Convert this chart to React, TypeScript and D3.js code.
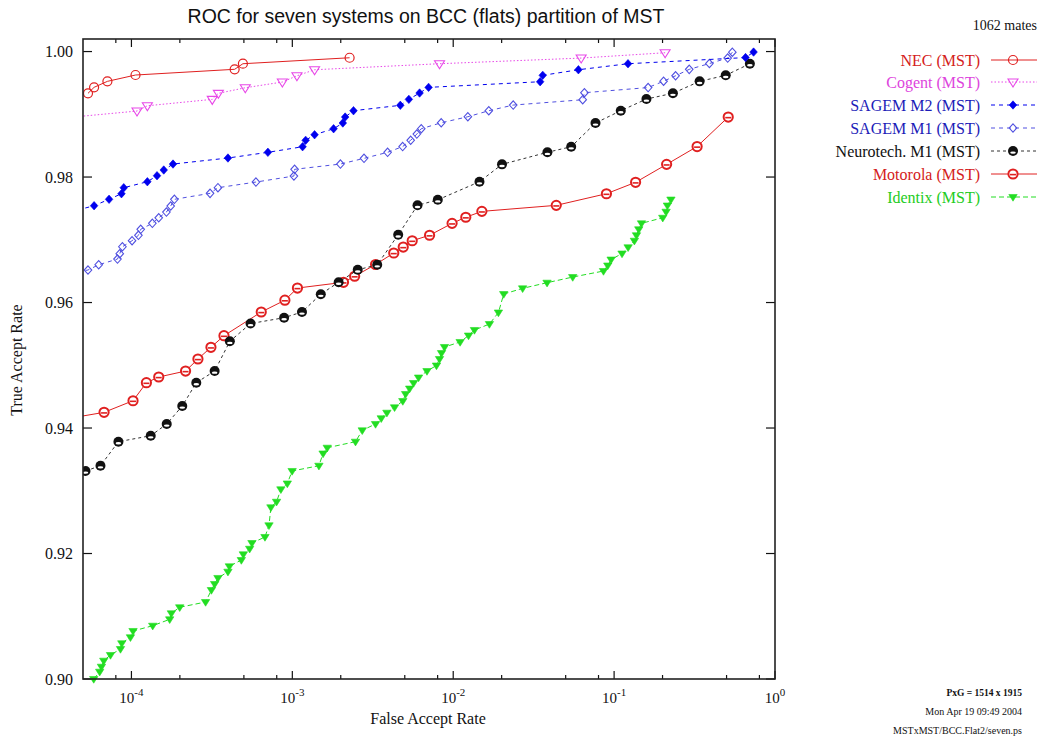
import { useEffect, useRef } from "react";
import * as d3 from "d3";

// ---- data (FAR, TAR) ----
const necFar = [5.37e-5, 5.86e-5, 7.09e-5, 1.06e-4, 4.38e-4, 4.93e-4, 2.27e-3];
const necTar = [0.99334, 0.9943, 0.99525, 0.99626, 0.99717, 0.99806, 0.99901];

const cogentFar = [4.14e-5, 1.083e-4, 1.256e-4, 3.18e-4, 3.47e-4, 5.1e-4, 8.67e-4, 1.068e-3, 1.375e-3, 8.22e-3, 0.0624, 0.2075];
const cogentTar = [0.98951, 0.99052, 0.99136, 0.99238, 0.99334, 0.99423, 0.99514, 0.99614, 0.9971, 0.99806, 0.99896, 0.99981];

const sagemM2Far = [4.14e-5, 5.86e-5, 7.26e-5, 8.67e-5, 8.96e-5, 1.256e-4, 1.442e-4, 1.588e-4, 1.813e-4, 3.98e-4, 7.05e-4, 1.158e-3, 1.21e-3, 1.375e-3, 1.805e-3, 2.06e-3, 2.13e-3, 2.4e-3, 4.69e-3, 5.3e-3, 6.18e-3, 7.03e-3, 0.0347, 0.036, 0.06, 0.122, 0.656, 0.736];
const sagemM2Tar = [0.97442, 0.97543, 0.97645, 0.97734, 0.9783, 0.97925, 0.98021, 0.98112, 0.98207, 0.98303, 0.98394, 0.98483, 0.98585, 0.98674, 0.9877, 0.98861, 0.98956, 0.99057, 0.99143, 0.99238, 0.99339, 0.99429, 0.99519, 0.99621, 0.9971, 0.99806, 0.99904, 0.99992];

const sagemM1Far = [4.14e-5, 5.37e-5, 6.26e-5, 8.19e-5, 8.46e-5, 8.79e-5, 1.009e-4, 1.105e-4, 1.142e-4, 1.349e-4, 1.478e-4, 1.65e-4, 1.754e-4, 1.849e-4, 3.08e-4, 3.45e-4, 5.94e-4, 1.023e-3, 1.033e-3, 1.99e-3, 2.79e-3, 3.91e-3, 4.85e-3, 5.44e-3, 5.94e-3, 6.33e-3, 8.42e-3, 0.01233, 0.01664, 0.0236, 0.0638, 0.0654, 0.1627, 0.203, 0.241, 0.293, 0.391, 0.508, 0.543];
const sagemM1Tar = [0.9647, 0.96518, 0.96602, 0.96693, 0.96778, 0.96889, 0.96985, 0.97071, 0.97167, 0.97262, 0.97351, 0.97442, 0.97538, 0.97645, 0.9774, 0.9783, 0.9792, 0.98016, 0.98123, 0.98207, 0.98298, 0.98394, 0.98486, 0.98586, 0.98685, 0.9877, 0.98865, 0.98961, 0.99057, 0.99147, 0.99232, 0.99344, 0.99426, 0.99527, 0.99614, 0.99716, 0.99809, 0.99896, 0.99989];

const neuroFar = [5.18e-5, 6.42e-5, 8.3e-5, 1.318e-4, 1.657e-4, 2.07e-4, 2.53e-4, 3.29e-4, 4.09e-4, 5.5e-4, 8.89e-4, 1.148e-3, 1.503e-3, 1.94e-3, 2.55e-3, 3.37e-3, 4.55e-3, 6.0e-3, 8.02e-3, 0.01456, 0.0201, 0.0385, 0.0541, 0.0766, 0.11, 0.1588, 0.232, 0.34, 0.494, 0.698];
const neuroTar = [0.93315, 0.93399, 0.93782, 0.93877, 0.94064, 0.94351, 0.94722, 0.94908, 0.95382, 0.95665, 0.95758, 0.95849, 0.96132, 0.96324, 0.96521, 0.96602, 0.97079, 0.97549, 0.97637, 0.97925, 0.98202, 0.98394, 0.98483, 0.98861, 0.99057, 0.99243, 0.99335, 0.99525, 0.99621, 0.99806];

const motoFar = [4.14e-5, 6.76e-5, 1.023e-4, 1.239e-4, 1.478e-4, 2.17e-4, 2.59e-4, 3.12e-4, 3.76e-4, 6.41e-4, 8.99e-4, 1.076e-3, 2.08e-3, 2.44e-3, 3.29e-3, 4.27e-3, 4.89e-3, 5.56e-3, 7.13e-3, 9.84e-3, 0.01197, 0.01507, 0.0437, 0.0896, 0.136, 0.212, 0.328, 0.512];
const motoTar = [0.94156, 0.9425, 0.94435, 0.94722, 0.94813, 0.94908, 0.951, 0.95286, 0.95471, 0.95849, 0.96037, 0.96231, 0.96322, 0.96419, 0.96606, 0.96789, 0.96884, 0.96985, 0.97072, 0.97262, 0.97359, 0.97453, 0.97549, 0.97734, 0.97916, 0.98202, 0.98486, 0.98956];

const identixFar = [5.83e-5, 6.35e-5, 6.51e-5, 6.73e-5, 7.41e-5, 8.55e-5, 8.71e-5, 9.86e-5, 1.023e-4, 1.356e-4, 1.729e-4, 1.771e-4, 1.995e-4, 2.89e-4, 3.14e-4, 3.29e-4, 3.45e-4, 3.98e-4, 4.06e-4, 4.82e-4, 4.96e-4, 5.43e-4, 5.61e-4, 6.76e-4, 7.16e-4, 7.36e-4, 7.98e-4, 8.49e-4, 9.31e-4, 9.97e-4, 1.463e-3, 1.553e-3, 1.648e-3, 2.47e-3, 2.72e-3, 3.29e-3, 3.57e-3, 3.87e-3, 4.32e-3, 4.86e-3, 5.06e-3, 5.36e-3, 5.67e-3, 6.09e-3, 6.87e-3, 7.87e-3, 8.22e-3, 8.46e-3, 8.83e-3, 0.01104, 0.01245, 0.01355, 0.01679, 0.0191, 0.0206, 0.027, 0.0383, 0.0553, 0.0859, 0.0913, 0.0958, 0.112, 0.1222, 0.1337, 0.1377, 0.1423, 0.148, 0.2006, 0.2105, 0.2144, 0.2255];
const identixTar = [0.9, 0.90116, 0.90196, 0.90292, 0.90382, 0.90478, 0.90569, 0.90665, 0.90765, 0.90849, 0.90951, 0.91047, 0.91143, 0.91227, 0.91418, 0.91514, 0.9161, 0.9171, 0.91796, 0.91896, 0.91987, 0.92076, 0.92167, 0.92263, 0.92449, 0.92736, 0.92825, 0.93023, 0.93116, 0.93315, 0.93399, 0.93594, 0.93686, 0.93782, 0.93963, 0.94064, 0.94155, 0.94244, 0.9433, 0.9443, 0.94542, 0.94629, 0.94717, 0.94805, 0.94908, 0.94996, 0.951, 0.95195, 0.95291, 0.95371, 0.95474, 0.95562, 0.95657, 0.95841, 0.96135, 0.96226, 0.96316, 0.96406, 0.96502, 0.9659, 0.96685, 0.96781, 0.9688, 0.96985, 0.97072, 0.97167, 0.97262, 0.97351, 0.97447, 0.97546, 0.97641];

const legendNames = ["NEC (MST)", "Cogent (MST)", "SAGEM M2 (MST)", "SAGEM M1 (MST)", "Neurotech. M1 (MST)", "Motorola (MST)", "Identix (MST)"];
const yTicks = [0.9, 0.92, 0.94, 0.96, 0.98, 1.0];
const xMajor = [1e-4, 1e-3, 1e-2, 1e-1, 1];
const xExp = ["-4", "-3", "-2", "-1", "0"];

const series = [
  {far: necFar, tar: necTar, color: "#e02020", text: "#d42020", dash: null, marker: "circleOpen"},
  {far: cogentFar, tar: cogentTar, color: "#e848e8", text: "#dd44dd", dash: "1.5,2", marker: "triOpen"},
  {far: sagemM2Far, tar: sagemM2Tar, color: "#0000ee", text: "#1c1cb8", dash: "4,4", marker: "diamondFilled"},
  {far: sagemM1Far, tar: sagemM1Tar, color: "#5050e0", text: "#1c1cb8", dash: "4,4", marker: "diamondOpen"},
  {far: neuroFar, tar: neuroTar, color: "#333333", text: "#111111", dash: "3,3", marker: "ballBlack"},
  {far: motoFar, tar: motoTar, color: "#e02020", text: "#d42020", dash: null, marker: "ballRed"},
  {far: identixFar, tar: identixTar, color: "#22dd22", text: "#22cc22", dash: "5,3", marker: "triFilled"},
];

const serif = "'Liberation Serif', 'DejaVu Serif', serif";
const sans = "'Liberation Sans', Arial, sans-serif";

function drawMarker(g, kind, color, cx, cy) {
  if (kind === "circleOpen") {
    g.append("circle").attr("cx", cx).attr("cy", cy).attr("r", 4.5)
      .attr("fill", "none").attr("stroke", color).attr("stroke-width", 1.2);
  } else if (kind === "triOpen" || kind === "triFilled") {
    const s = kind === "triOpen" ? 5 : 4.2;
    g.append("path")
      .attr("d", `M${cx - s},${cy - s * 0.6}L${cx + s},${cy - s * 0.6}L${cx},${cy + s}Z`)
      .attr("fill", kind === "triOpen" ? "none" : color)
      .attr("stroke", color).attr("stroke-width", kind === "triOpen" ? 1.1 : 0.6);
  } else if (kind === "diamondFilled" || kind === "diamondOpen") {
    const s = 4.2;
    g.append("path")
      .attr("d", `M${cx},${cy - s}L${cx + s * 0.9},${cy}L${cx},${cy + s}L${cx - s * 0.9},${cy}Z`)
      .attr("fill", kind === "diamondFilled" ? color : "none")
      .attr("stroke", color).attr("stroke-width", kind === "diamondFilled" ? 0.6 : 1.1);
  } else if (kind === "ballBlack") {
    g.append("circle").attr("cx", cx).attr("cy", cy).attr("r", 5).attr("fill", "#111");
    g.append("ellipse").attr("cx", cx).attr("cy", cy + 1.6).attr("rx", 2.8).attr("ry", 1.2).attr("fill", "#fff");
  } else if (kind === "ballRed") {
    g.append("circle").attr("cx", cx).attr("cy", cy).attr("r", 4.6)
      .attr("fill", "#fff").attr("stroke", color).attr("stroke-width", 2);
    g.append("line").attr("x1", cx - 3).attr("x2", cx + 3).attr("y1", cy + 0.6).attr("y2", cy + 0.6)
      .attr("stroke", color).attr("stroke-width", 1.6);
  }
}

export default function App() {
  const ref = useRef(null);

  useEffect(() => {
    const svg = d3.select(ref.current);
    svg.selectAll("*").remove();

    const left = 83, right = 775, top = 39, bottom = 679;

    let x = d3.scaleLog().domain([5e-5, 1]).range([left, right]);
    let y = d3.scaleLinear().domain([0.9, 1.002]).range([bottom, top]);

    svg.append("rect").attr("width", 1041).attr("height", 739).attr("fill", "#fff");

    // title
    svg.append("text")
      .attr("x", 426).attr("y", 23)
      .attr("text-anchor", "middle")
      .style("font-family", sans).style("font-size", "19.5px").attr("fill", "#111")
      .text("ROC for seven systems on BCC (flats) partition of MST");

    // ticks (inward)
    const minor = [];
    for (let e = -5; e <= -1; e++) {
      for (const m of [2, 5, 8]) {
        const v = m * Math.pow(10, e);
        if (v > 5e-5 && v < 1) minor.push(v);
      }
    }
    const tickG = svg.append("g").attr("stroke", "#111").attr("stroke-width", 1.2);
    for (const v of xMajor) {
      tickG.append("line").attr("x1", x(v)).attr("x2", x(v)).attr("y1", bottom).attr("y2", bottom - 8);
      tickG.append("line").attr("x1", x(v)).attr("x2", x(v)).attr("y1", top).attr("y2", top + 8);
    }
    for (const v of minor) {
      tickG.append("line").attr("x1", x(v)).attr("x2", x(v)).attr("y1", bottom).attr("y2", bottom - 4);
      tickG.append("line").attr("x1", x(v)).attr("x2", x(v)).attr("y1", top).attr("y2", top + 4);
    }
    for (const v of yTicks) {
      tickG.append("line").attr("x1", left).attr("x2", left + 9).attr("y1", y(v)).attr("y2", y(v));
      tickG.append("line").attr("x1", right).attr("x2", right - 9).attr("y1", y(v)).attr("y2", y(v));
    }

    // tick labels
    svg.append("g").selectAll("text").data(yTicks).enter().append("text")
      .attr("x", 73).attr("y", d => y(d) + 5.5)
      .attr("text-anchor", "end")
      .style("font-family", serif).style("font-size", "16px").attr("fill", "#111")
      .text(d => d.toFixed(2));

    xMajor.forEach((v, i) => {
      const t = svg.append("text")
        .attr("x", x(v)).attr("y", 703)
        .attr("text-anchor", "middle")
        .style("font-family", serif).attr("fill", "#111");
      t.append("tspan").style("font-size", "15px").text("10");
      t.append("tspan").style("font-size", "11px").attr("dy", -7).text(xExp[i]);
    });

    // axis titles
    svg.append("text")
      .attr("x", 428).attr("y", 724).attr("text-anchor", "middle")
      .style("font-family", serif).style("font-size", "16px").attr("fill", "#111")
      .text("False Accept Rate");
    svg.append("text")
      .attr("transform", "rotate(-90)")
      .attr("x", -360).attr("y", 22).attr("text-anchor", "middle")
      .style("font-family", serif).style("font-size", "16px").attr("fill", "#111")
      .text("True Accept Rate");

    // clip for curves
    svg.append("defs").append("clipPath").attr("id", "plotclip")
      .append("rect").attr("x", left).attr("y", top - 6).attr("width", right - left).attr("height", bottom - top + 12);

    const line = d3.line().x(d => x(d[0])).y(d => y(d[1]));
    const plot = svg.append("g").attr("clip-path", "url(#plotclip)");

    // draw from bottom of legend order so NEC ends on top
    for (let k = series.length - 1; k >= 0; k--) {
      const s = series[k];
      const pts = s.far.map((f, i) => [f, s.tar[i]]);
      plot.append("path")
        .datum(pts)
        .attr("d", line)
        .attr("fill", "none")
        .attr("stroke", s.color)
        .attr("stroke-width", 1)
        .attr("stroke-dasharray", s.dash);
      const mg = plot.append("g");
      for (const p of pts) {
        if (p[0] < 5e-5) continue;
        drawMarker(mg, s.marker, s.color, x(p[0]), y(p[1]));
      }
    }

    // frame
    svg.append("rect")
      .attr("x", left).attr("y", top).attr("width", right - left).attr("height", bottom - top)
      .attr("fill", "none").attr("stroke", "#222").attr("stroke-width", 1.6);

    // legend
    svg.append("text")
      .attr("x", 1037).attr("y", 30).attr("text-anchor", "end")
      .style("font-family", serif).style("font-size", "14px").attr("fill", "#111")
      .text("1062 mates");
    const legY = [60, 82, 105, 128, 151, 174, 197];
    series.forEach((s, i) => {
      const ly = legY[i];
      svg.append("text")
        .attr("x", 980).attr("y", ly + 5.5).attr("text-anchor", "end")
        .style("font-family", serif).style("font-size", "16px").attr("fill", s.text)
        .text(legendNames[i]);
      svg.append("line")
        .attr("x1", 991).attr("x2", 1037).attr("y1", ly).attr("y2", ly)
        .attr("stroke", s.color).attr("stroke-width", 1)
        .attr("stroke-dasharray", s.dash);
      drawMarker(svg.append("g"), s.marker, s.color, 1013, ly);
    });

    // footer
    const foot = [
      {t: "PxG = 1514 x 1915", y: 696, w: "bold", s: "9.5px"},
      {t: "Mon Apr 19 09:49 2004", y: 715, w: "normal", s: "10px"},
      {t: "MSTxMST/BCC.Flat2/seven.ps", y: 734, w: "normal", s: "10px"},
    ];
    foot.forEach(f => {
      svg.append("text")
        .attr("x", 1022).attr("y", f.y).attr("text-anchor", "end")
        .style("font-family", serif).style("font-size", f.s).style("font-weight", f.w)
        .attr("fill", "#111")
        .text(f.t);
    });
  }, []);

  return <svg ref={ref} width={1041} height={739}
              style={{position: "absolute", left: 0, top: 0, display: "block"}}/>;
}
